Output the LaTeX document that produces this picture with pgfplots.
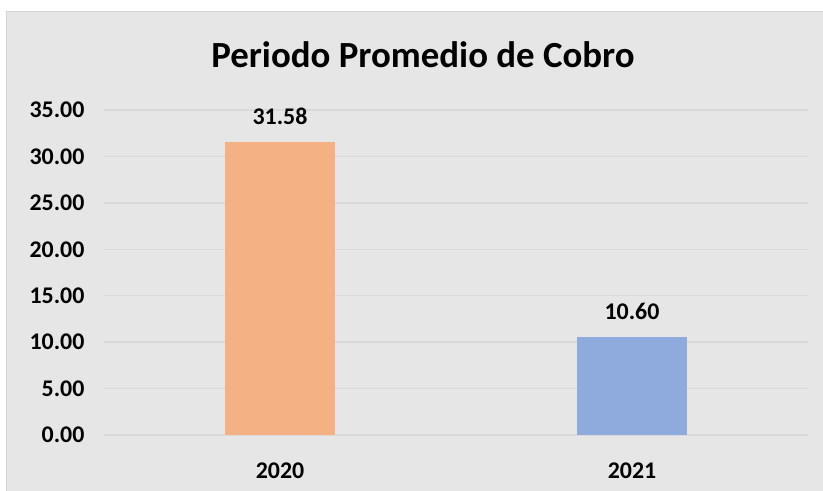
\documentclass[border=0pt]{standalone}
\usepackage{fontspec}
\setmainfont{Carlito}
\usepackage{pgfplots}
\pgfplotsset{compat=1.18}
\definecolor{bgc}{HTML}{E6E6E6}
\definecolor{gridc}{HTML}{D9D9D9}
\definecolor{borderc}{HTML}{D4D4D4}
\definecolor{c1}{HTML}{F4B183}
\definecolor{c2}{HTML}{8FAADC}
\begin{document}
\begin{tikzpicture}[x=1bp,y=1bp]
\path[use as bounding box] (0,0) rectangle (823,491);
\fill[bgc] (6,0) rectangle (823,480);
\draw[borderc, line width=1bp] (6.5,0) -- (6.5,479.5) -- (823,479.5);
\node[font=\bfseries\fontsize{37}{44}\selectfont] at (423,436) {Periodo Promedio de Cobro};
\begin{axis}[
  at={(104bp,56bp)}, anchor=south west,
  scale only axis, width=704bp, height=325bp,
  xmin=-0.5, xmax=1.5, ymin=0, ymax=35,
  ytick={0,5,...,35}, xtick={0,1}, xticklabels={2020,2021},
  axis line style={draw=none}, major tick style={draw=none},
  ymajorgrids, grid style={gridc, line width=1.5bp},
  clip=false,
  /pgf/number format/assume math mode=true,
  yticklabel={\pgfmathprintnumber[fixed,fixed zerofill,precision=2]{\tick}},
  yticklabel style={font=\bfseries\fontsize{24}{28}\selectfont, anchor=east, xshift=-16bp},
  xticklabel style={font=\bfseries\fontsize{24}{28}\selectfont, anchor=center, yshift=-31bp},
  ybar, bar width=110bp,
  nodes near coords,
  nodes near coords style={font=\bfseries\fontsize{24}{28}\selectfont, anchor=center, yshift=25bp,
    /pgf/number format/.cd, fixed, fixed zerofill, precision=2, assume math mode=true},
]
\addplot[fill=c1, draw=none, bar shift=0pt] coordinates {(0,31.58)};
\addplot[fill=c2, draw=none, bar shift=0pt] coordinates {(1,10.60)};
\end{axis}
\end{tikzpicture}
\end{document}
